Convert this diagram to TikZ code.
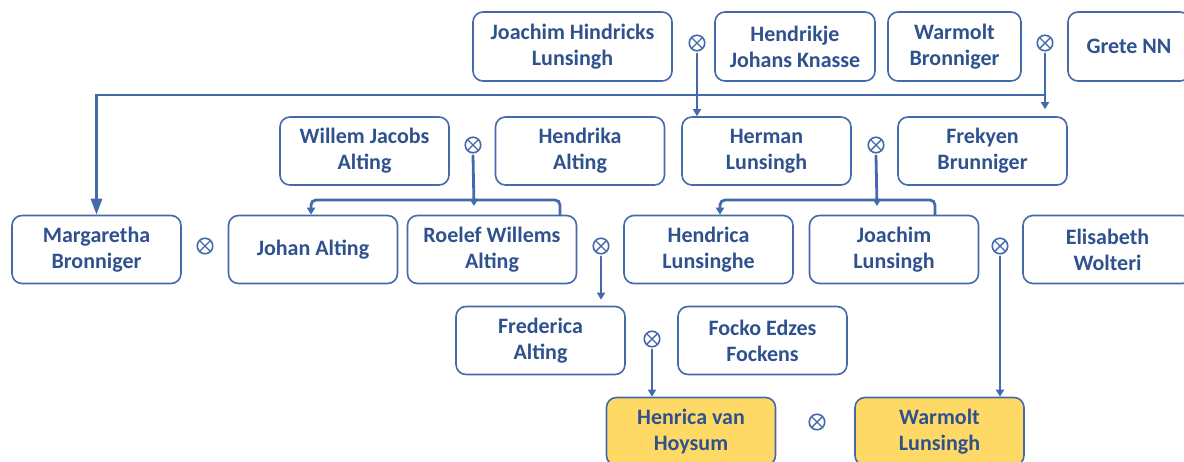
\documentclass[tikz,border=0pt]{standalone}
\usepackage{fontspec}
\setmainfont{Carlito}
\usetikzlibrary{arrows.meta}
\definecolor{lijnblauw}{RGB}{68,106,172}
\definecolor{tekstblauw}{RGB}{47,82,143}
\definecolor{geel}{RGB}{255,217,102}

\begin{document}
\begin{tikzpicture}[x=1pt,y=-1pt,line cap=round]
	\tikzstyle{pers}=[draw=lijnblauw,line width=1.6pt,rounded corners=10pt,fill=white,text=tekstblauw,font=\fontsize{22}{26}\selectfont\bfseries,align=center,minimum width=169,minimum height=68,inner sep=2pt];
	\tikzstyle{geelpers}=[pers,fill=geel];
	\tikzstyle{huw}=[circle,draw=lijnblauw,line width=1.6pt,minimum size=15.5pt,inner sep=0pt,outer sep=3pt,
		path picture={\draw[lijnblauw,line width=1.4pt] (path picture bounding box.south west) -- (path picture bounding box.north east)
			(path picture bounding box.north west) -- (path picture bounding box.south east);}];
	\tikzstyle{lijn}=[draw=lijnblauw,line width=2.8pt,-{Triangle[width=8pt,length=7pt]}];
	\useasboundingbox (0,0) rectangle (1184,461);

	% bovenste rij
	\node[pers,minimum width=199,minimum height=69] (jhl) at (572.5,46.5) {Joachim Hindricks\\Lunsingh};
	\node[huw] (m1) at (697,43) {};
	\node[pers,minimum width=160,minimum height=69] (hjk) at (795,46.5) {Hendrikje\\Johans Knasse};
	\node[pers,minimum width=133,minimum height=69] (wb) at (954.5,46.5) {Warmolt\\Bronniger};
	\node[huw] (m2) at (1045,43) {};
	\node[pers,minimum width=122,minimum height=69] (gnn) at (1129,46.5) {Grete NN};

	% tweede rij
	\node[pers] (wja) at (364.5,151) {Willem Jacobs\\Alting};
	\node[huw] (m3) at (473,145) {};
	\node[pers] (ha) at (580,151) {Hendrika\\Alting};
	\node[pers] (hl) at (766.5,151) {Herman\\Lunsingh};
	\node[huw] (m4) at (876,145) {};
	\node[pers] (fb) at (982.5,151) {Frekyen\\Brunniger};

	% derde rij
	\node[pers] (mb) at (96.5,249.5) {Margaretha\\Bronniger};
	\node[huw] (m5) at (205,246) {};
	\node[pers] (ja) at (313,249.5) {Johan Alting};
	\node[pers] (rwa) at (492,249.5) {Roelef Willems\\Alting};
	\node[huw] (m6) at (601,246) {};
	\node[pers] (hle) at (708.5,249.5) {Hendrica\\Lunsinghe};
	\node[pers] (jl) at (894,249.5) {Joachim\\Lunsingh};
	\node[huw] (m7) at (1000,246) {};
	\node[pers] (ew) at (1107.5,249.5) {Elisabeth\\Wolteri};

	% vierde rij
	\node[pers] (fa) at (540.5,340.5) {Frederica\\Alting};
	\node[huw] (m8) at (652,339) {};
	\node[pers] (fef) at (762.5,340.5) {Focko Edzes\\Fockens};

	% onderste rij
	\node[geelpers] (hvh) at (691,431.5) {Henrica van\\Hoysum};
	\node[huw] (m9) at (817,422) {};
	\node[geelpers] (wl) at (939.5,431.5) {Warmolt\\Lunsingh};

	\coordinate (t1) at (m2.south |- 0,95);
	\coordinate (b1) at (474,200);
	\coordinate (b2) at (877,200);

	\draw[lijn] (m1.south) -- (m1.south |- hl.north);
	\draw[lijn,shorten >=7pt] (m2.south) -- (m2.south |- fb.north);
	\draw[lijn,-{Triangle[width=11pt,length=16pt]}] (t1) -| (mb.north);
	\draw[lijn] (m3.south) -- ([yshift=-6pt]b1);
	\draw[lijn,rounded corners=5pt] ([xshift=68pt]rwa.north) |- (b1) -| ([xshift=-2pt]ja.north);
	\draw[lijn] (m4.south) -- ([yshift=-6pt]b2);
	\draw[lijn,rounded corners=5pt] ([xshift=41pt]jl.north) |- (b2) -| ([xshift=11.5pt]hle.north);
	\draw[lijn,shorten >=6pt] (m6.south) -- (m6.south |- fa.north);
	\draw[lijn] (m7.south) -- (m7.south |- wl.north);
	\draw[lijn] (m8.south) -- (m8.south |- hvh.north);
\end{tikzpicture}
\end{document}
